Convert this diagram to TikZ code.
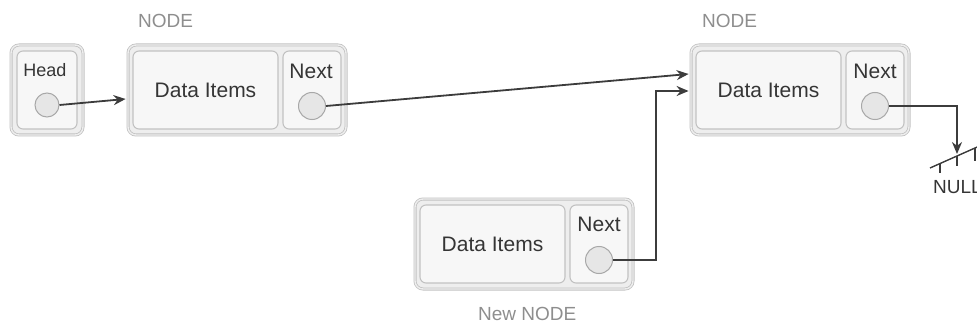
\documentclass[tikz,border=0pt]{standalone}
\usepackage{fontspec}
\setmainfont{Liberation Sans}
\usetikzlibrary{calc,positioning,arrows.meta}
\definecolor{boxLine}{HTML}{C2C2C2}
\definecolor{outerFill}{HTML}{EEEEEE}
\definecolor{cellFill}{HTML}{F7F7F7}
\definecolor{circLine}{HTML}{A8A8A8}
\definecolor{circFill}{HTML}{E6E6E6}
\definecolor{textDark}{HTML}{353535}
\definecolor{capGray}{HTML}{8E8E8E}
\definecolor{linkCol}{HTML}{3C3C3C}
\tikzstyle{outerBox} = [draw=boxLine, double=outerFill, double distance=1.4pt, line width=0.8pt, fill=outerFill, rounded corners=8pt, minimum height=90pt, inner sep=0pt]
\tikzstyle{cellBox} = [draw=boxLine, fill=cellFill, line width=1.1pt, rounded corners=6pt, minimum height=78pt, inner sep=0pt, text=textDark, font=\fontsize{21}{24}\selectfont]
\tikzstyle{ptr} = [circle, draw=circLine, fill=circFill, line width=1pt, minimum size=27pt, inner sep=0pt]
\tikzstyle{lbl} = [text=textDark, font=\fontsize{21}{24}\selectfont, inner sep=0pt]
\tikzstyle{capLbl} = [text=capGray, font=\fontsize{19}{22}\selectfont, inner sep=0pt]
\tikzstyle{link} = [draw=linkCol, line width=1.8pt, -{Stealth[length=12pt,width=10pt]}]

\begin{document}
\begin{tikzpicture}[x=1pt,y=1pt]
  \useasboundingbox (0,0) rectangle (977,-326);
  \node[outerBox, minimum width=72pt] (headBox) at (47,-90) {};
  \node[cellBox, minimum width=60pt] (headCell) at (47,-90) {};
  \node[lbl, font=\fontsize{18}{20}\selectfont] (headTxt) at (45,-70) {Head};
  \node[ptr, minimum size=24pt] (headPtr) at (47,-105) {};

  \node[outerBox, minimum width=218pt] (nodeA) at (237,-90) {};
  \node[cellBox, minimum width=145pt] (nodeAData) at (205.5,-90) {Data Items};
  \node[cellBox, minimum width=58pt] (nodeANext) at (312,-90) {};
  \node[lbl] (nodeANextTxt) at (311,-71) {Next};
  \node[ptr] (nodeAPtr) at (312,-106) {};
  \node[capLbl, anchor=west] (nodeACap) at (138,-21) {NODE};

  \node[outerBox, minimum width=218pt] (nodeB) at (800,-90) {};
  \node[cellBox, minimum width=145pt] (nodeBData) at (768.5,-90) {Data Items};
  \node[cellBox, minimum width=58pt] (nodeBNext) at (875,-90) {};
  \node[lbl] (nodeBNextTxt) at (875,-71) {Next};
  \node[ptr] (nodeBPtr) at (875,-106) {};
  \node[capLbl, anchor=west] (nodeBCap) at (702,-21) {NODE};

  \node[outerBox, minimum width=218pt] (newNode) at (524,-244) {};
  \node[cellBox, minimum width=145pt] (newData) at (492.5,-244) {Data Items};
  \node[cellBox, minimum width=58pt] (newNext) at (599,-244) {};
  \node[lbl] (newNextTxt) at (599,-224) {Next};
  \node[ptr] (newPtr) at (599,-260) {};
  \node[capLbl, anchor=west] (newCap) at (478,-314) {New NODE};

  \coordinate (joinB) at ([xshift=-2pt,yshift=-1pt]nodeB.west);
  \coordinate (gnd) at (957,-154);
  \draw[link] (headPtr.east) -- ([xshift=-2pt,yshift=-9pt]nodeA.west);
  \draw[link] (nodeAPtr.east) -- ([xshift=-2pt,yshift=16pt]nodeB.west);
  \draw[link] (newPtr.east) -| ([xshift=-33pt]joinB) -- (joinB);
  \draw[link] (nodeBPtr.east) -| (gnd);

  \draw[linkCol, line width=1.4pt] (930,-168) -- (984,-144);
  \draw[linkCol, line width=1.4pt] (940,-163.6) -- (940,-173) (957,-156) -- (957,-166) (975,-148) -- (975,-161);
  \node[lbl, font=\fontsize{19}{22}\selectfont, anchor=west] (nullTxt) at (933,-187) {NULL};
\end{tikzpicture}
\end{document}
